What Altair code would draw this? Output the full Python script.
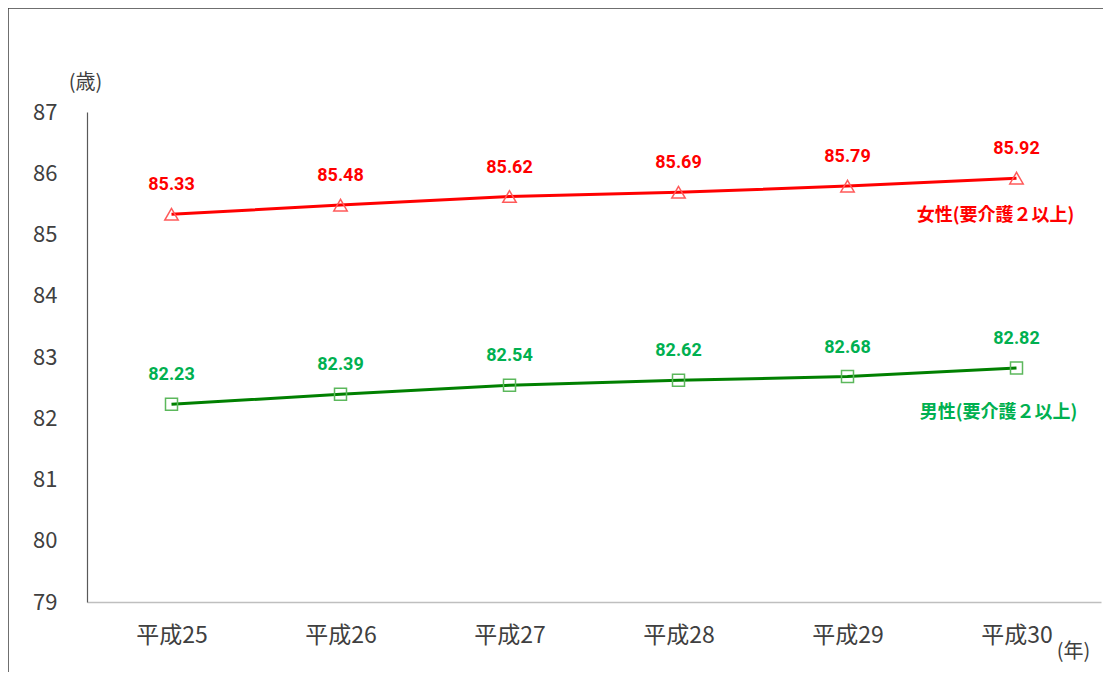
import altair as alt
import pandas as pd

years = ["平成25", "平成26", "平成27", "平成28", "平成29", "平成30"]
female = [85.33, 85.48, 85.62, 85.69, 85.79, 85.92]
male = [82.23, 82.39, 82.54, 82.62, 82.68, 82.82]
y_ticks = [79, 80, 81, 82, 83, 84, 85, 86, 87]
female_name = "女性(要介護２以上)"
male_name = "男性(要介護２以上)"

df = pd.DataFrame({"year": years, "female": female, "male": male})
df["female_lbl"] = [f"{v:.2f}" for v in female]
df["male_lbl"] = [f"{v:.2f}" for v in male]

W, H = 1014, 490
JP = "Noto Sans CJK JP"

x_enc = alt.X(
    "year:O",
    sort=years,
    axis=alt.Axis(
        title="(年)",
        titleFont=JP,
        titleFontSize=20,
        titleFontWeight="normal",
        titleColor="#404040",
        titleX=986,
        titleY=49,
        titleAlign="center",
        titleBaseline="middle",
        labelAngle=0,
        labelFont=JP,
        labelFontSize=23,
        labelColor="#404040",
        labelPadding=22,
        ticks=False,
        domainColor="#bfbfbf",
        domainWidth=1.5,
        grid=False,
    ),
)

def y_enc(field):
    return alt.Y(
        f"{field}:Q",
        scale=alt.Scale(domain=[79, 87], nice=False, zero=False),
        axis=alt.Axis(
            title="(歳)",
            titleFont=JP,
            titleFontSize=20,
            titleFontWeight="normal",
            titleColor="#404040",
            titleAngle=0,
            titleX=-2,
            titleY=-30,
            titleAlign="center",
            titleBaseline="middle",
            values=y_ticks,
            labelFont=JP,
            labelFontSize=22,
            labelColor="#404040",
            labelPadding=30,
            ticks=False,
            domainColor="#595959",
            domainWidth=1.2,
            grid=False,
        ),
    )

base = alt.Chart(df)

def series(field, line_color, mark_color, label_color, shape, msize, name, ndx, ndy):
    line = base.mark_line(color=line_color, strokeWidth=3).encode(x=x_enc, y=y_enc(field))
    pts = base.mark_point(shape=shape, size=msize, filled=False, color=mark_color,
                          strokeWidth=1.5, opacity=1).encode(x=x_enc, y=y_enc(field))
    lbl = base.mark_text(font="Roboto", fontSize=18, fontWeight="bold", color=label_color,
                         dy=-29, baseline="middle").encode(
        x=x_enc, y=y_enc(field), text=f"{field}_lbl:N")
    nm = base.transform_filter(alt.datum.year == years[-1]).mark_text(
        font=JP, fontSize=18, fontWeight="bold", color=label_color,
        dx=ndx, dy=ndy, align="center", baseline="middle").encode(
        x=x_enc, y=y_enc(field), text=alt.value(name))
    return [line, pts, lbl, nm]

frame = alt.Chart(alt.Data(values=[{"a": 1}])).mark_rect(
    fillOpacity=0, stroke="#404040", strokeWidth=1.5
).encode(
    x=alt.value(-79), x2=alt.value(W + 60),
    y=alt.value(-104), y2=alt.value(H + 120),
)

layers = [frame]
layers += series("female", "#ff0000", "#ff5a5a", "#ff0000", "triangle-up", 180, female_name, -21, 38)
layers += series("male", "#008000", "#5cb85c", "#00b050", "square", 144, male_name, -18, 45)

chart = alt.layer(*layers).properties(
    width=W,
    height=H,
    padding={"left": 79, "top": 104, "right": 2, "bottom": 70},
    autosize=alt.AutoSizeParams(type="none"),
    background="white",
).configure_view(stroke="transparent")

chart.save("out.html", embed_options={"renderer": "svg", "actions": False})
